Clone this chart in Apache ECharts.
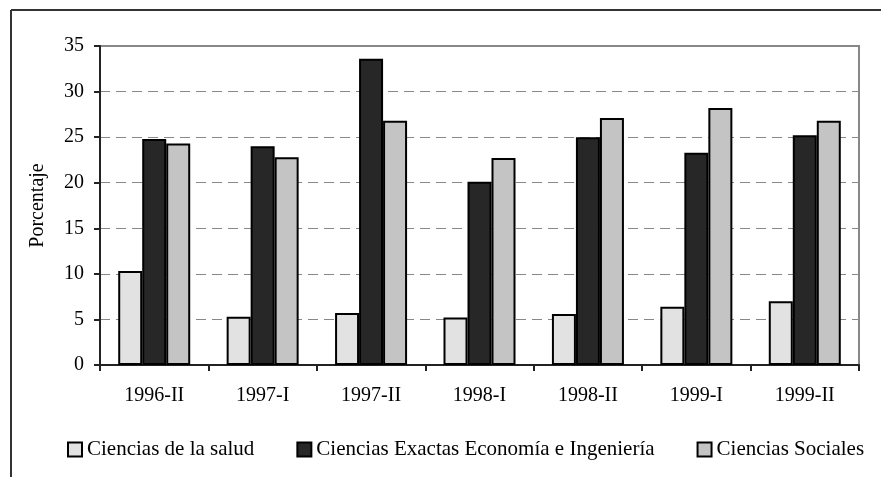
<!DOCTYPE html>
<html>
<head>
<meta charset="utf-8">
<script src="https://cdn.jsdelivr.net/npm/echarts@6/dist/echarts.min.js"></script>
<style>
  html, body { margin: 0; padding: 0; background: #fff; }
  #main { width: 881px; height: 477px; }
</style>
</head>
<body>
<div id="main"></div>
<script>
var categories = ['1996-II', '1997-I', '1997-II', '1998-I', '1998-II', '1999-I', '1999-II'];
var salud = [10.3, 5.3, 5.7, 5.2, 5.6, 6.4, 7.0];
var exactas = [24.8, 24.0, 33.6, 20.1, 25.0, 23.3, 25.2];
var sociales = [24.3, 22.8, 26.8, 22.7, 27.1, 28.2, 26.8];
var yTicks = [0, 5, 10, 15, 20, 25, 30, 35];

var font = 'Liberation Serif';
var chart = echarts.init(document.getElementById('main'));

function barSeries(name, data, color) {
    return {
        name: name,
        type: 'bar',
        data: data,
        barWidth: 24,
        barGap: '0%',
        itemStyle: { color: color, borderColor: '#000', borderWidth: 2 }
    };
}

var option = {
    animation: false,
    textStyle: { fontFamily: font },
    graphic: [
        { type: 'line', shape: { x1: 11, y1: 10, x2: 881, y2: 10 }, style: { stroke: '#333', lineWidth: 2 } },
        { type: 'line', shape: { x1: 11, y1: 10, x2: 11, y2: 477 }, style: { stroke: '#333', lineWidth: 2 } },
        { type: 'rect', shape: { x: 100, y: 46, width: 759, height: 319 }, style: { fill: 'none', stroke: '#888', lineWidth: 2 }, z: -1 }
    ],
    grid: { left: 100, top: 46, right: 22, bottom: 112 },
    legend: {
        top: 434,
        left: 62,
        itemWidth: 14,
        itemHeight: 14,
        itemGap: 42,
        icon: 'rect',
        textStyle: { fontFamily: font, fontSize: 21, color: '#000' },
        data: ['Ciencias de la salud', 'Ciencias Exactas Economía e Ingeniería', 'Ciencias Sociales']
    },
    xAxis: {
        type: 'category',
        data: categories,
        axisLine: { lineStyle: { color: '#222', width: 2 } },
        axisTick: { show: true, length: 6, alignWithLabel: false, lineStyle: { color: '#222', width: 2 } },
        axisLabel: { fontFamily: font, fontSize: 20, color: '#000', margin: 21 }
    },
    yAxis: {
        type: 'value',
        min: 0,
        max: 35,
        interval: 5,
        name: 'Porcentaje',
        nameLocation: 'middle',
        nameGap: 52,
        nameTextStyle: { fontFamily: font, fontSize: 20, color: '#000' },
        axisLine: { show: true, lineStyle: { color: '#222', width: 2 } },
        axisTick: { show: true, length: 6, lineStyle: { color: '#222', width: 2 } },
        axisLabel: {
            fontFamily: font, fontSize: 20, color: '#000', margin: 16,
            formatter: function (v) { return yTicks.indexOf(v) >= 0 ? String(v) : ''; }
        },
        splitLine: { show: true, lineStyle: { color: '#888', type: [10, 6], width: 1 } }
    },
    series: [
        barSeries('Ciencias de la salud', salud, '#e2e2e2'),
        barSeries('Ciencias Exactas Economía e Ingeniería', exactas, '#272727'),
        barSeries('Ciencias Sociales', sociales, '#c4c4c4')
    ]
};

chart.setOption(option);
</script>
</body>
</html>
